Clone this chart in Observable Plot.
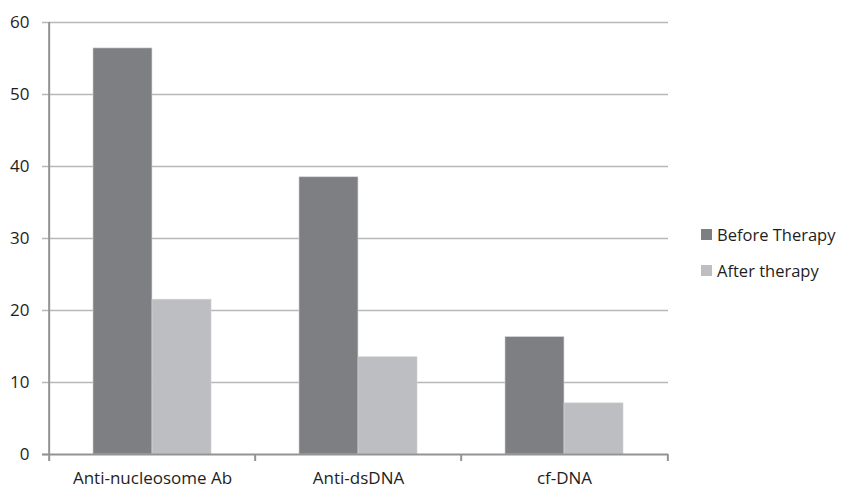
<!DOCTYPE html>
<html><head><meta charset="utf-8">
<script src="https://cdn.jsdelivr.net/npm/d3@7"></script>
<script src="https://cdn.jsdelivr.net/npm/@observablehq/plot@0.6"></script>
<style>
body{margin:0;background:#fff;}
#wrap{position:relative;width:842px;height:488px;font-family:"Open Sans",sans-serif;color:#1e1e1e;}
#legend{position:absolute;left:701px;top:222px;font-size:16.5px;}
.item{display:flex;align-items:center;height:24px;margin-bottom:12px;}
.sw{width:11px;height:11px;margin-right:5px;}
</style></head><body>
<div id="wrap"><div id="chart"></div><div id="legend"></div></div>
<script>
const categories = ["Anti-nucleosome Ab", "Anti-dsDNA", "cf-DNA"];
const series = ["Before Therapy", "After therapy"];
const beforeValues = [56.4, 38.5, 16.3];
const afterValues = [21.5, 13.5, 7.1];
const yTicks = [0, 10, 20, 30, 40, 50, 60];
const colors = ["#7e7f83", "#bdbec2"];

const beforeData = categories.map((c, i) => ({category: c, series: series[0], value: beforeValues[i]}));
const afterData = categories.map((c, i) => ({category: c, series: series[1], value: afterValues[i]}));

const gridColor = "#b8b8ba";
const axisColor = "#939396";

const W = 690, H = 488, mL = 48, mR = 22, mT = 22, mB = 34;
const xOpts = {type: "band", domain: categories, paddingInner: 3/7, paddingOuter: 3/14, range: [mL, W - mR]};
const xs = Plot.scale({x: xOpts});
const half = xs.bandwidth / 2;
const stepHalf = xs.step / 2;

const plot = Plot.plot({
  width: W, height: H,
  marginLeft: mL, marginRight: mR, marginTop: mT, marginBottom: mB,
  style: {fontFamily: "'Open Sans', sans-serif", fontSize: "17px", color: "#1e1e1e", background: "#fff", overflow: "visible"},
  x: {domain: categories, paddingInner: 3/7, paddingOuter: 3/14, label: null},
  y: {domain: [0, 60], label: null},
  color: {domain: series, range: colors},
  marks: [
    Plot.gridY(yTicks.filter(d => d > 0), {stroke: gridColor, strokeOpacity: 1, strokeWidth: 1.5}),
    Plot.axisY(yTicks, {tickSize: 6, tickPadding: 13, stroke: gridColor, strokeOpacity: 1, strokeWidth: 1.5, fontSize: 17, fill: "#1e1e1e", label: null, tickFormat: d => String(d)}),
    Plot.barY(beforeData, {x: "category", y: "value", fill: "series", stroke: "#d0d0d3", strokeWidth: 0.6, insetRight: half}),
    Plot.barY(afterData, {x: "category", y: "value", fill: "series", stroke: "#d0d0d3", strokeWidth: 0.6, insetLeft: half}),
    Plot.ruleY([0], {stroke: axisColor, strokeWidth: 2, insetLeft: -6}),
    Plot.ruleX([categories[0]], {x: d => d, y1: 0, y2: 60, dx: -stepHalf, stroke: axisColor, strokeWidth: 2}),
    Plot.ruleX(categories, {x: d => d, y1: 0, y2: 0, insetBottom: -7, dx: -stepHalf, stroke: axisColor, strokeWidth: 2}),
    Plot.ruleX([categories[categories.length - 1]], {x: d => d, y1: 0, y2: 0, insetBottom: -7, dx: stepHalf, stroke: axisColor, strokeWidth: 2}),
    Plot.axisX({tickSize: 0, tickPadding: 17, label: null, fontSize: 17, fill: "#1e1e1e"})
  ]
});
document.getElementById("chart").appendChild(plot);

const legend = d3.select("#legend");
series.forEach((s, i) => {
  const it = legend.append("div").attr("class", "item");
  it.append("div").attr("class", "sw").style("background", colors[i]);
  it.append("span").text(s);
});
</script>
</body></html>
